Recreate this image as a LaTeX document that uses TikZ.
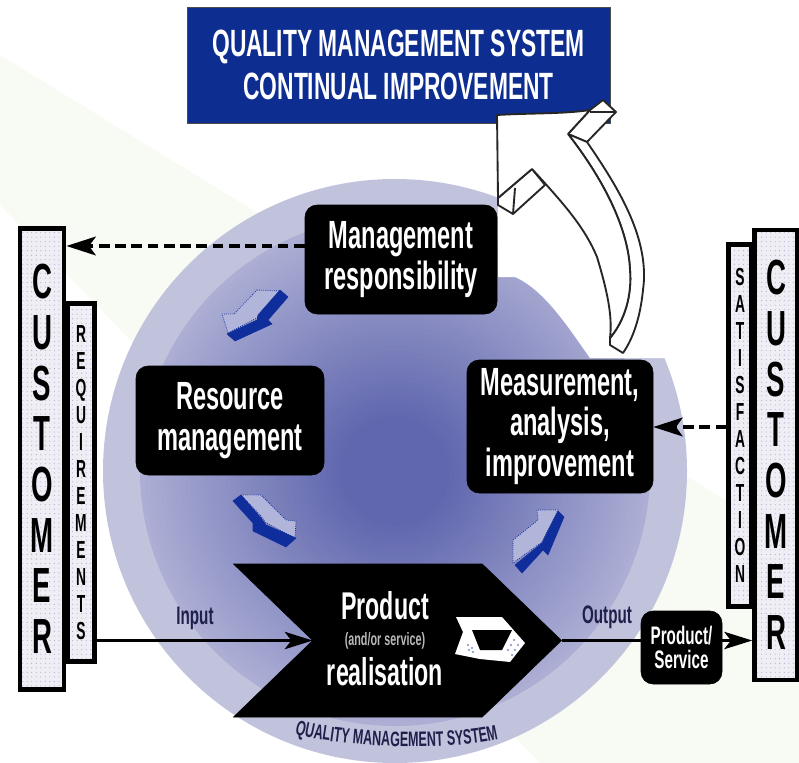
\documentclass[tikz,border=0pt]{standalone}
\usepackage{fontspec}
\newfontfamily\qmsfont[FakeStretch=0.6]{Liberation Sans Bold}
\newfontfamily\stripfont[FakeStretch=0.56]{Liberation Sans Bold}
\usetikzlibrary{arrows.meta,shapes.symbols,patterns.meta,decorations.text}

\definecolor{bandblue}{RGB}{13,45,145}
\definecolor{smallblue}{RGB}{15,45,155}
\definecolor{ringpale}{RGB}{193,195,221}
\definecolor{ringmid}{RGB}{172,174,212}
\definecolor{ringdeep}{RGB}{96,103,174}
\definecolor{bgpale}{RGB}{248,251,243}
\definecolor{stripfill}{RGB}{238,238,244}
\definecolor{stripdot}{RGB}{165,165,205}
\definecolor{facepale}{RGB}{178,181,218}
\definecolor{labelnavy}{RGB}{30,32,75}

\tikzset{
	blackbox/.style={draw=black,fill=black,rounded corners=9pt,text=white,align=center,inner sep=0pt,font=\qmsfont\fontsize{29.5}{30.5}\selectfont,execute at begin node=\rule{0pt}{28pt}},
	stripbox/.style={draw=black,line width=3.6pt,preaction={fill=stripfill},pattern={Dots[distance=3.4pt,radius=0.4pt]},pattern color=stripdot,inner sep=0pt,align=center},
	whitetext/.style={text=white,inner sep=0pt,font=\qmsfont\fontsize{29}{30}\selectfont},
	smallarrow/.style={fill=smallblue,draw=smallblue,line width=0.4pt,line join=round},
	smallface/.style={fill=facepale,draw=smallblue,densely dotted,line width=0.6pt,line join=round},
	whitearrow/.style={draw=black!85,fill=white,line width=1.4pt,line join=round},
	solidlink/.style={draw=black,line width=2pt,-{Stealth[length=21pt,width=13pt,inset=5pt]}},
	dashlink/.style={draw=black,line width=2.8pt,dash pattern=on 8pt off 4.2pt,-{Stealth[length=22pt,width=14pt,inset=5pt]}},
}

\begin{document}
\begin{tikzpicture}[x=0.75pt,y=0.75pt,yscale=-1,xscale=1]
	\useasboundingbox (0,0) rectangle (799,763);
	\clip (0,0) rectangle (799,763);

	% Background band
	\fill [bgpale] (0,55) -- (799,545) -- (799,763) -- (540,763) -- (130,340) -- (0,205) -- cycle;

	% Circle
	\fill [ringpale] (395,471) circle [radius=292];
	\foreach \ringr in {255,250,...,55} {
		\pgfmathsetmacro{\ringmix}{(\ringr-55)/2}
		\fill [ringmid!\ringmix!ringdeep] (395,471) circle [radius=\ringr];
	}
	% White cut round the big arrow
	\fill [white] (498,170) -- (700,170) -- (700,358) -- (590,358) .. controls (570,330) and (545,290) .. (515,277) -- (498,277) -- cycle;

	% Banner
	\node (banner) [draw=black!70,fill=bandblue,text=white,align=center,inner sep=0pt,minimum width=317pt,minimum height=87pt,font=\qmsfont\fontsize{28.5}{32}\selectfont] at (398.5,65) {QUALITY MANAGEMENT SYSTEM\\CONTINUAL IMPROVEMENT};

	% Big arrow
	\draw [whitearrow] (590,110) -- (603,100) -- (616,112) -- (587,142) -- (568,134) -- cycle;
	\draw [whitearrow] (590,112) -- (616,112);
	\draw [whitearrow] (498,198) -- (498,205) -- (513,214) -- (545,185) -- (532,169) -- cycle;
	\draw [whitearrow] (515,188) -- (513,214);
	\draw [whitearrow] (587,142) .. controls (620,190) and (650,240) .. (643,290) .. controls (640,320) and (632,340) .. (623,353) -- (610,345) -- (610,338) .. controls (625,320) and (632,295) .. (630,270) .. controls (628,225) and (600,175) .. (568,134) -- cycle;
	\draw [whitearrow] (497,115) .. controls (530,113) and (565,114) .. (590,110) -- (568,134) .. controls (600,175) and (628,225) .. (630,270) .. controls (632,295) and (625,320) .. (610,338) .. controls (612,320) and (610,300) .. (597,257) .. controls (585,228) and (565,205) .. (532,169) -- (498,198) -- cycle;

	% Small arrows
	\draw [smallface] (257,290) -- (280,291) -- (257,318) -- (228,333) -- (222,314) -- (234,314) -- cycle;
	\fill [smallarrow] (280,290) -- (288,297) -- (268,320) -- (272,324) -- (235,341) -- (227,334) -- (257,320) -- (258,315) -- cycle;
	\draw [smallface] (241,495) -- (261,495) -- (286,520) -- (296,521) -- (295,538) -- (266,523) -- (261,516) -- cycle;
	\fill [smallarrow] (241,495) -- (233,501) -- (253,523) -- (253,531) -- (286,547) -- (296,538) -- (266,525) -- (261,518) -- cycle;
	\draw [smallface] (513,563) -- (513,540) -- (538,520) -- (537,510) -- (558,510) -- (542,542) -- cycle;
	\fill [smallarrow] (515,565) -- (522,573) -- (543,550) -- (548,555) -- (564,517) -- (558,511) -- (542,543) -- cycle;

	% Text Node
	\node (mgmtbox) [blackbox,minimum width=144pt,minimum height=81.75pt] at (401,259.5) {Management\\responsibility};
	% Text Node
	\node (resbox) [blackbox,minimum width=141pt,minimum height=81.75pt] at (230,420.5) {Resource\\management};
	% Text Node
	\node (measbox) [blackbox,minimum width=139.5pt,minimum height=99.75pt] at (560,426.5) {Measurement,\\analysis,\\improvement};
	% Text Node
	\node (prodsig) [shape=signal,signal from=west,signal to=east,signal pointer angle=88,fill=black,draw=black,inner sep=0pt,outer sep=0pt,minimum width=246pt,minimum height=114.75pt] at (397.5,640.5) {};
	% Text Node
	\node (prodname) [whitetext] at (385,606) {Product};
	% Text Node
	\node (prodsub) [whitetext,text=white!72!black,font=\qmsfont\fontsize{13.5}{15}\selectfont] at (385,641) {(and/or service)};
	% Text Node
	\node (prodreal) [whitetext] at (385,672) {realisation};
	% Icon
	\fill [white] (456,617) -- (502,617) -- (525,643) -- (510,662) -- (480,659) -- (455,654) -- (463,632) -- cycle;
	\fill [black] (472,630) -- (512,630) -- (502,650) -- (480,650) -- cycle;
	\foreach \dotx/\doty in {468/645,472/648,469/650,473/652,514/640,511/645,508/650,518/645,515/650,512/655} {
		\fill [smallblue!55] (\dotx,\doty) circle [radius=1.2];
	}
	% Text Node
	\node (servbox) [blackbox,minimum width=60.75pt,minimum height=54.75pt,font=\qmsfont\fontsize{19}{18.5}\selectfont,execute at begin node={}] at (681.5,647.5) {Product/\\Service};
	% Text Node
	\node (reqbox) [stripbox,minimum width=20pt,minimum height=268pt,font=\stripfont\fontsize{18.5}{20.2}\selectfont] at (81,482.5) {R\\E\\Q\\U\\I\\R\\E\\M\\E\\N\\T\\S};
	% Text Node
	\node (custleft) [stripbox,minimum width=33pt,minimum height=346pt,font=\stripfont\fontsize{37}{38}\selectfont] at (42,459) {C\\U\\S\\T\\O\\M\\E\\R};
	% Text Node
	\node (satisbox) [stripbox,minimum width=17pt,minimum height=271.5pt,font=\stripfont\fontsize{18.5}{20.2}\selectfont] at (740,425.5) {S\\A\\T\\I\\S\\F\\A\\C\\T\\I\\O\\N};
	% Text Node
	\node (custright) [stripbox,minimum width=32pt,minimum height=337.5pt,font=\stripfont\fontsize{37}{38}\selectfont] at (776,455) {C\\U\\S\\T\\O\\M\\E\\R};
	% Text Node
	\node (inputlabel) [text=labelnavy,inner sep=0pt,font=\qmsfont\fontsize{19}{20}\selectfont] at (195,618) {Input};
	% Text Node
	\node (outputlabel) [text=labelnavy,inner sep=0pt,font=\qmsfont\fontsize{19}{20}\selectfont] at (607,617) {Output};

	% Curved label
	\path [decorate,decoration={text along path,text align=center,text color=labelnavy,text={|\qmsfont\fontsize{15.7}{17}\selectfont|QUALITY MANAGEMENT SYSTEM}}] (290,733) .. controls (340,748) and (450,752) .. (503,738);

	% Connection
	\draw [dashlink] (mgmtbox.west |- 0,246) -- (custleft.east |- 0,246);
	% Connection
	\draw [dashlink] (satisbox.west |- 0,427) -- (measbox.east |- 0,427);
	% Connection
	\draw [solidlink] (reqbox.east |- prodsig.west) -- (prodsig.west);
	% Connection
	\draw [draw=black,line width=2pt] (prodsig.east) -- (servbox.west |- prodsig.east);
	% Connection
	\draw [solidlink] (servbox.east |- prodsig.east) -- (custright.west |- prodsig.east);

\end{tikzpicture}
\end{document}
